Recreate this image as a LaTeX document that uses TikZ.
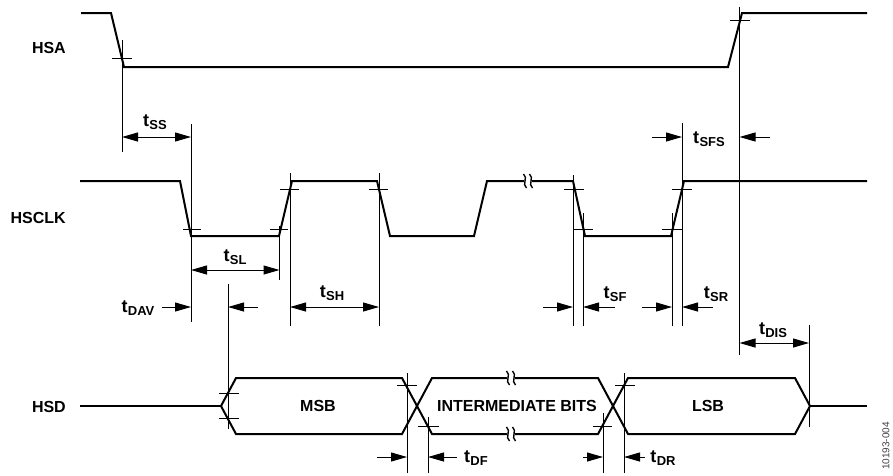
\documentclass[tikz,border=0pt]{standalone}
\usepackage{fontspec}
\setmainfont{Liberation Sans}
\usetikzlibrary{arrows.meta}
\newcommand{\tlab}[1]{{\fontsize{18}{18}\selectfont t}\kern0.3pt\raisebox{-3.5pt}{\fontsize{13}{13}\selectfont #1}}
\tikzset{
  sig/.style={line width=2pt, line join=miter, line cap=butt},
  thin/.style={line width=1pt},
  tick/.style={line width=1pt},
  dimtip/.tip={Triangle[length=16pt,width=9pt]},
  dimone/.style={line width=1pt, -dimtip},
  dimtwo/.style={line width=1pt, dimtip-dimtip},
  siglbl/.style={font=\bfseries\fontsize{16}{16}\selectfont, anchor=east, inner sep=0pt},
  buslbl/.style={font=\bfseries\fontsize{16}{16}\selectfont, inner sep=0pt},
  tl/.style={font=\bfseries, inner sep=0pt},
  brk/.pic={
    \draw[line width=1.4pt] (-4.5,-7) .. controls (0.5,-3) and (-6.5,3) .. (-1.5,7);
    \draw[line width=1.4pt] (1.5,-7) .. controls (6.5,-3) and (-0.5,3) .. (4.5,7);
  }
}
\begin{document}
\begin{tikzpicture}[x=1pt,y=-1pt]
\useasboundingbox (0,0) rectangle (893,475);

% signal labels
\node[siglbl] (lhsa) at (66,48) {HSA};
\node[siglbl] (lhsclk) at (66,218) {HSCLK};
\node[siglbl] (lhsd) at (66,407) {HSD};

% HSA
\draw[sig] (81,13) -- (111,13) -- (124,67) -- (728,67) -- (742,13) -- (867,13);

% HSCLK
\draw[sig] (80,181) -- (180,181) -- (191,236) -- (279,236) -- (292,181) -- (377,181)
  -- (390,236) -- (474,236) -- (487,181) -- (524,181);
\draw[sig] (532,181) -- (573,181) -- (585,236) -- (671,236) -- (684,181) -- (867,181);
\pic at (528,181) {brk};

% HSD
\draw[sig] (80,406) -- (221,406);
\draw[sig] (507,378) -- (432,378) -- (402,434) -- (236,434) -- (221,406) -- (236,378) -- (402,378) -- (432,434) -- (507,434);
\draw[sig] (515,434) -- (598,434) -- (628,378) -- (795,378) -- (810,406) -- (795,434) -- (628,434) -- (598,378) -- (515,378);
\draw[sig] (810,406) -- (867,406);
\pic at (511,378) {brk};
\pic at (511,434) {brk};

\node[buslbl] (msb) at (318,406) {MSB};
\node[buslbl] (ib) at (517,406) {INTERMEDIATE BITS};
\node[buslbl] (lsb) at (708,406) {LSB};

% vertical reference lines
\draw[thin] (122,40) -- (122,152);
\draw[thin] (191,124) -- (191,322);
\draw[thin] (739.5,7) -- (739.5,355);
\draw[thin] (279.5,226) -- (279.5,280);
\draw[thin] (290,173) -- (290,326);
\draw[thin] (379,173) -- (379,326);
\draw[thin] (573,175) -- (573,326);
\draw[thin] (583,213) -- (583,326);
\draw[thin] (672,213) -- (672,326);
\draw[thin] (682,123) -- (682,326);
\draw[thin] (228,284) -- (228,429);
\draw[thin] (809,325) -- (809,427);
\draw[thin] (407,373) -- (407,473);
\draw[thin] (428,417) -- (428,473);
\draw[thin] (603,413) -- (603,473);
\draw[thin] (624,373) -- (624,473);

% horizontal ticks
\draw[tick] (112,58) -- (132,58);
\draw[tick] (730,20) -- (750,20);
\draw[tick] (183,229) -- (201,229);
\draw[tick] (270,229) -- (288,229);
\draw[tick] (280,189) -- (299,189);
\draw[tick] (369,189) -- (388,189);
\draw[tick] (564,189) -- (584,189);
\draw[tick] (573,229) -- (593,229);
\draw[tick] (662,229) -- (682,229);
\draw[tick] (672,189) -- (692,189);
\draw[tick] (219,393) -- (239,393);
\draw[tick] (219,418) -- (239,418);
\draw[tick] (397,385) -- (417,385);
\draw[tick] (418,426) -- (439,426);
\draw[tick] (593,426) -- (612,426);
\draw[tick] (615,385) -- (635,385);

% dimension arrows
\draw[dimtwo] (122,137) -- (191,137);
\node[tl] (tss) at (155,122) {\tlab{SS}};

\draw[dimone] (652,137) -- (682,137);
\draw[dimone] (770,137) -- (739.5,137);
\node[tl] (tsfs) at (709,139) {\tlab{SFS}};

\draw[dimtwo] (191,270) -- (279.5,270);
\node[tl] (tsl) at (235,257) {\tlab{SL}};

\draw[dimone] (162,307) -- (191,307);
\draw[dimone] (258,307) -- (228,307);
\node[tl] (tdav) at (138,308) {\tlab{DAV}};

\draw[dimtwo] (290,307) -- (379,307);
\node[tl] (tsh) at (332,293) {\tlab{SH}};

\draw[dimone] (543,307) -- (573,307);
\draw[dimone] (615,307) -- (583,307);
\node[tl] (tsf) at (615,294) {\tlab{SF}};

\draw[dimone] (642,307) -- (672,307);
\draw[dimone] (713,307) -- (682,307);
\node[tl] (tsr) at (716,294) {\tlab{SR}};

\draw[dimtwo] (739.5,343) -- (809,343);
\node[tl] (tdis) at (773,330) {\tlab{DIS}};

\draw[dimone] (377,457) -- (407,457);
\draw[dimone] (457,457) -- (428,457);
\node[tl] (tdf) at (476,458) {\tlab{DF}};

\draw[dimone] (583,457) -- (603,457);
\draw[dimone] (645,457) -- (624,457);
\node[tl] (tdr) at (663,458) {\tlab{DR}};

\node[rotate=90, font=\fontsize{10}{10}\selectfont, text=black!75, inner sep=0pt] (fig) at (886,446) {10193-004};
\end{tikzpicture}
\end{document}
